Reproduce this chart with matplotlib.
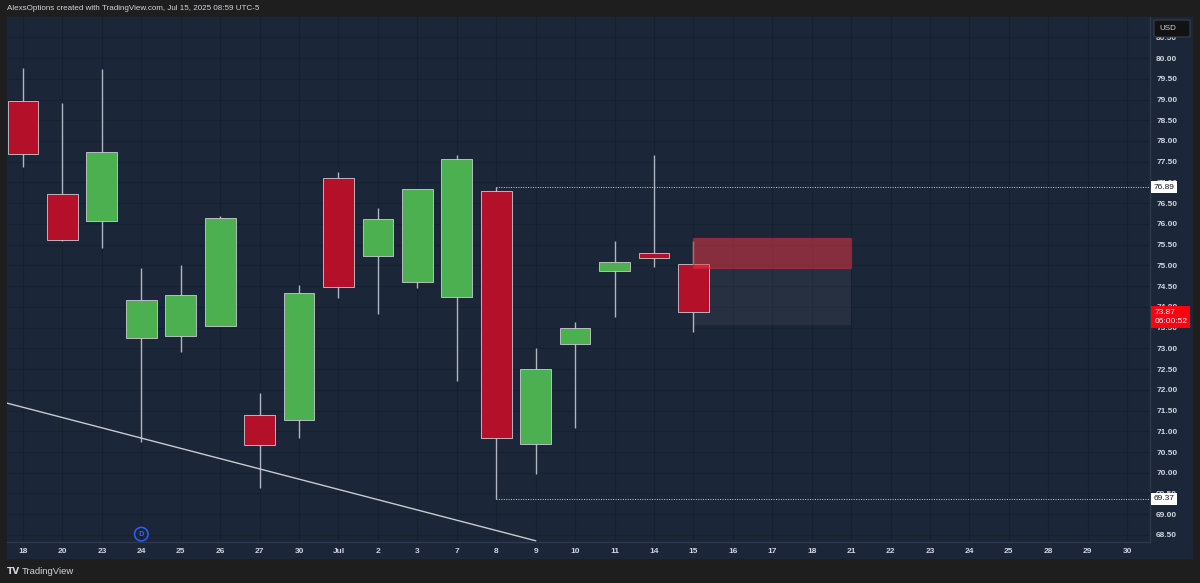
import matplotlib
matplotlib.use("Agg")
import matplotlib.pyplot as plt
import matplotlib.transforms as mtransforms
from matplotlib.patches import Rectangle, FancyBboxPatch

# daily candles, Jun 18 - Jul 15 (prices)
fechas = ['18', '20', '23', '24', '25', '26', '27', '30', 'Jul', '2', '3', '7', '8', '9',
          '10', '11', '14', '15', '16', '17', '18', '21', '22', '23', '24', '25', '28', '29', '30']
aperturas = [78.96, 76.72, 76.07, 73.25, 73.30, 73.54, 71.39, 71.27, 77.11, 75.23, 74.60, 74.24,
             76.79, 70.69, 73.11, 74.87, 75.30, 75.03]
maximos = [79.76, 78.92, 79.73, 74.94, 75.01, 76.20, 71.92, 74.53, 77.25, 76.38, 76.84, 77.66,
           76.89, 73.01, 73.64, 75.60, 77.66, 75.60]
minimos = [77.37, 75.60, 75.42, 70.74, 72.91, 73.54, 69.63, 70.84, 74.21, 73.83, 74.46, 72.21,
           69.37, 69.97, 71.08, 73.76, 74.97, 73.40]
cierres = [77.69, 75.61, 77.73, 74.17, 74.29, 76.14, 70.67, 74.33, 74.48, 76.12, 76.84, 77.57,
           70.84, 72.50, 73.49, 75.07, 75.19, 73.87]

# drawings
niveles = [76.89, 69.37]          # dotted lines from Jul 8
zona_roja = (75.67, 74.93)        # top, bottom
zona_gris = (74.93, 73.56)
zona_x = (17, 21)                 # Jul 15 -> Jul 21
tendencia_x = [-0.41, 13.0]
tendencia_y = [71.68, 68.36]
precio_ticks = [68.5 + 0.5 * i for i in range(25)]

FONDO = '#1e1e1e'
PANEL = '#1b2638'
GRID = '#162030'
TEXTO = '#d1d4dc'
VERDE = '#4caf50'
ROJO = '#b5102a'

W, H = 1200, 583
fig = plt.figure(figsize=(12, 5.83), dpi=100, facecolor=FONDO)

# panel background (chart + scales)
fig.patches.append(Rectangle((7 / W, 1 - 559 / H), 1186 / W, 542 / H, transform=fig.transFigure,
                             facecolor=PANEL, edgecolor='none', zorder=-1))

ax = fig.add_axes([7 / W, 1 - 542 / H, 1143 / W, 525 / H])
ax.set_zorder(1)
ax.set_facecolor(PANEL)
ax.set_xlim(-0.406, 28.58)
ax.set_ylim(68.33, 80.99)

x = list(range(len(fechas)))
ax.set_xticks(x)
ax.set_xticklabels(fechas)
ax.set_yticks(precio_ticks)
ax.set_yticklabels(['%.2f' % p for p in precio_ticks])
ax.yaxis.tick_right()
ax.tick_params(axis='both', length=0, colors=TEXTO, labelsize=6)
ax.tick_params(axis='x', pad=4.5)
ax.tick_params(axis='y', pad=4.5)
for lab in ax.get_xticklabels() + ax.get_yticklabels():
    lab.set_fontfamily('Liberation Sans')
    lab.set_fontweight('bold')
ax.grid(True, color=GRID, linewidth=0.9)
ax.set_axisbelow(True)
for s in ['top', 'left']:
    ax.spines[s].set_visible(False)
for s in ['right', 'bottom']:
    ax.spines[s].set_color('#2e3a4e')
    ax.spines[s].set_linewidth(1)

# zones
ax.add_patch(Rectangle((zona_x[0], zona_gris[1]), zona_x[1] - zona_x[0], zona_gris[0] - zona_gris[1],
                       facecolor='#787b86', alpha=0.12, edgecolor='none', zorder=1))
ax.add_patch(Rectangle((zona_x[0], zona_roja[1]), zona_x[1] - zona_x[0], zona_roja[0] - zona_roja[1],
                       facecolor='#f23645', alpha=0.5, edgecolor='#c42a3a', linewidth=1, zorder=4))

# candles
n = len(aperturas)
idx = list(range(n))
colores = [VERDE if c >= o else ROJO for o, c in zip(aperturas, cierres)]
ax.vlines(idx, minimos, maximos, color='#b2b5be', linewidth=1, zorder=2)
ax.bar(idx, [c - o for o, c in zip(aperturas, cierres)], bottom=aperturas, width=0.78,
       color=colores, edgecolor='#c9ccd4', linewidth=0.6, zorder=3)

# levels and trendline
for nv in niveles:
    ax.plot([12, 28.58], [nv, nv], color=TEXTO, linestyle=(0, (1, 1.5)), linewidth=0.7, zorder=2)
ax.plot(tendencia_x, tendencia_y, color='#c8cad0', linewidth=1, zorder=2)

# price labels on scale
bt = mtransforms.blended_transform_factory(ax.transAxes, ax.transData)
for nv in niveles:
    ax.text(1.003, nv, '%.2f' % nv, transform=bt, ha='left', va='center', fontsize=6,
            fontfamily='Liberation Sans', color='#131722', clip_on=False, zorder=10,
            bbox=dict(boxstyle='square,pad=0.3', fc='white', ec='none'))
ax.annotate('%.2f\n06:00:52' % cierres[-1], xy=(1.0, cierres[-1]), xycoords=bt,
            xytext=(3.0, 2.6), textcoords='offset points', ha='left', va='top', fontsize=6,
            fontfamily='Liberation Sans', color='white', linespacing=1.45, annotation_clip=False,
            zorder=10, bbox=dict(boxstyle='square,pad=0.35', fc='#ff0011', ec='none'))

# dividend marker
mk = mtransforms.blended_transform_factory(ax.transData, ax.transAxes)
ax.scatter([3], [0.015], transform=mk, s=95, facecolor='none', edgecolor='#2962ff',
           linewidth=1.1, clip_on=False, zorder=6)
ax.text(3, 0.015, 'D', transform=mk, ha='center', va='center', fontsize=4.8, color='#2962ff',
        fontweight='bold', clip_on=False, zorder=7)

# USD box
fig.patches.append(FancyBboxPatch((1154 / W, 1 - 37 / H), 36 / W, 17 / H, transform=fig.transFigure,
                                  boxstyle='round,pad=0,rounding_size=0.002', facecolor='#121212',
                                  edgecolor='#3a3f4a', linewidth=0.8, zorder=5))
fig.text(1159 / W, 1 - 29 / H, 'USD', fontsize=5.8, color=TEXTO, va='center', ha='left',
         fontfamily='Liberation Sans', zorder=6)

# header and footer
fig.text(7 / W, 1 - 9 / H, 'AlexsOptions created with TradingView.com, Jul 15, 2025 08:59 UTC-5',
         fontsize=5.8, color=TEXTO, va='center', ha='left', fontfamily='Liberation Sans')
fig.text(7 / W, 1 - 571 / H, 'TV', fontsize=6.5, color=TEXTO, va='center', ha='left',
         fontweight='heavy', fontfamily='DejaVu Sans')
fig.text(22 / W, 1 - 571 / H, 'TradingView', fontsize=6.8, color=TEXTO, va='center', ha='left',
         fontfamily='Liberation Sans')

fig.savefig('out.png', dpi=100, facecolor=FONDO)
